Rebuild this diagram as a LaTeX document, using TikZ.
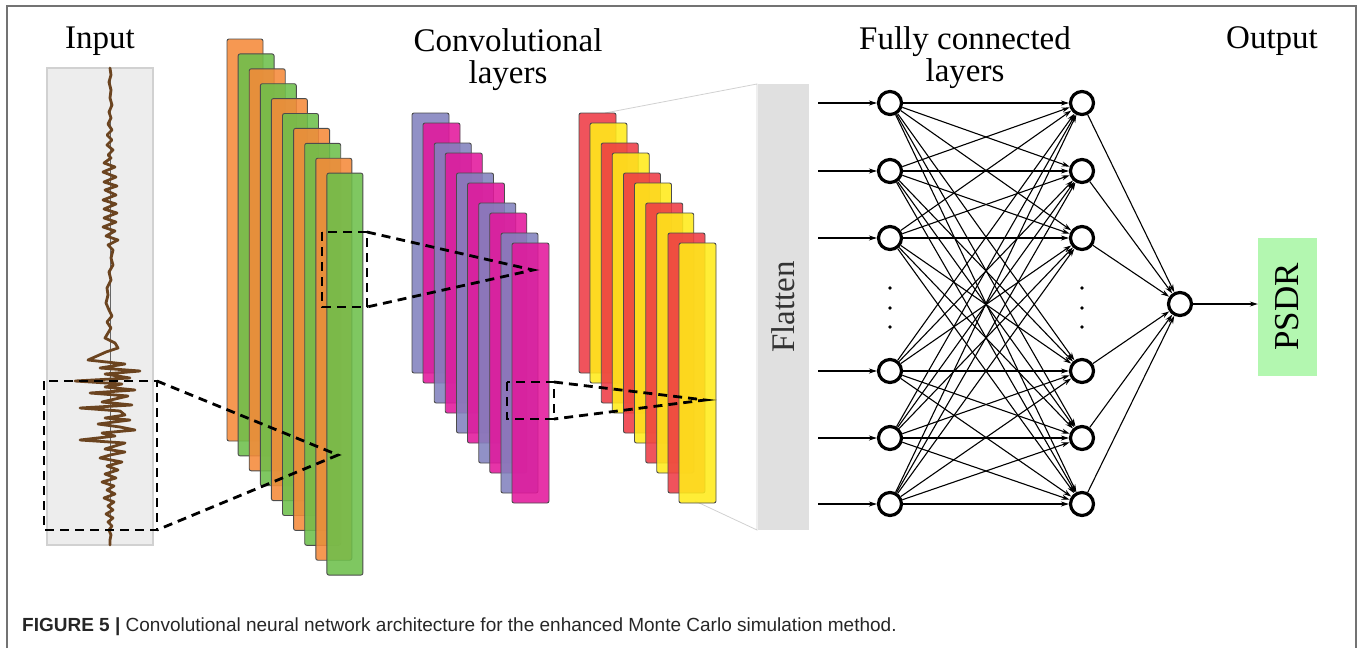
\documentclass[tikz,border=0pt]{standalone}
\usepackage{fontspec}
\setmainfont{Liberation Serif}
\newfontfamily\capfont{Liberation Sans}
\usetikzlibrary{arrows.meta}
\definecolor{lorange}{HTML}{F58A3A}
\definecolor{lgreen}{HTML}{6DBF4B}
\definecolor{lpurple}{HTML}{8282BE}
\definecolor{lmagenta}{HTML}{E2189C}
\definecolor{lred}{HTML}{EE3B45}
\definecolor{lyellow}{HTML}{FFEB1A}
\definecolor{sigcol}{HTML}{6B4420}
\definecolor{psdrcol}{HTML}{B3F7B0}
\begin{document}
\begin{tikzpicture}[x=1pt,y=-1pt,
  title/.style={font=\fontsize{33}{36}\selectfont, inner sep=0pt, anchor=base},
  fmap/.style={draw=black!70, line width=0.9pt, rounded corners=2pt, fill opacity=0.88},
  zoombox/.style={draw=black, line width=2.8pt, dash pattern=on 9pt off 6pt},
  neuron/.style={circle, draw=black, line width=3.2pt, fill=white, minimum size=23pt, inner sep=0pt},
  wire/.style={line width=1.1pt, -{Stealth[length=8pt,width=5pt]}},
  dotmark/.style={circle, fill=black, inner sep=0pt, minimum size=3.6pt}]
\useasboundingbox (0,0) rectangle (1360,648);
% frame
\draw[black!55, line width=1.6pt] (7,648) -- (7,6) -- (1356,6) -- (1356,648);
% titles
\node[title] (tin) at (100,48) {Input};
\node[title] (tconv1) at (508,51) {Convolutional};
\node[title] (tconv2) at (508,83) {layers};
\node[title] (tfc1) at (965,49) {Fully connected};
\node[title] (tfc2) at (965,81) {layers};
\node[title] (tout) at (1272,48) {Output};
% input panel
\node[draw=black!18, line width=1.2pt, fill=black!7, minimum width=106pt, minimum height=477pt, inner sep=0pt] (inbox) at (100,306.5) {};
\draw[black!60, line width=0.8pt] (110,68) -- (110,545);
\draw[sigcol, line width=2.8pt, line join=round, line cap=round]
 plot coordinates {
 (110,68)(111,75)(109,82)(111,90)(110,98)(112,105)(109,112)(111,118)(108,124)(112,130)(107,135)(112,140)(107,145)(113,150)(108,155)(111,158)
 (104,163)(115,167)(103,172)(116,177)(104,182)(117,186)(105,190)(116,195)(103,200)(116,204)(104,209)(117,213)(104,218)(116,222)(103,227)(115,231)(106,236)(118,240)(108,245)(113,250)
 (111,258)(113,265)(109,272)(111,280)(107,288)(108,295)(106,303)(109,310)(112,316)(107,322)(111,328)(108,333)(105,338)(115,343)(118,348)(106,352)
 (88,360)(125,364)(100,368)(140,371)(105,374)(130,378)(75,381)(122,384)(105,387)(135,390)(90,393)(128,396)(115,399)(102,402)(132,405)(80,408)(120,411)(125,415)(105,418)(130,420)(98,424)(120,427)(135,430)(102,433)(115,436)(80,440)(125,443)(115,446)(105,449)(125,452)(110,455)(100,458)(122,462)(107,466)(118,470)(105,474)(116,478)(102,482)(114,486)(107,490)(115,494)(104,498)(114,502)(108,506)(113,510)(106,514)(113,518)(108,522)(112,526)(109,530)(111,535)(110,540)(110,545)};
% conv layer 1
\foreach \i in {0,...,9}{
  \pgfmathsetmacro{\xx}{227+11.1*\i}
  \pgfmathsetmacro{\yy}{39+14.9*\i}
  \pgfmathtruncatemacro{\parity}{mod(\i,2)}
  \ifnum\parity=0 \def\fc{lorange}\else\def\fc{lgreen}\fi
  \draw[fmap, fill=\fc] (\xx,\yy) rectangle ++(36,402);
}
% conv layer 2
\foreach \k in {0,...,4}{
  \pgfmathsetmacro{\xa}{412+22.25*\k}
  \pgfmathsetmacro{\ya}{113+30*\k}
  \draw[fmap, fill=lpurple] (\xa,\ya) rectangle ++(37,260);
  \draw[fmap, fill=lmagenta] (\xa+11,\ya+10) rectangle ++(37,260);
}
% flatten trapezoid
\draw[black!18, line width=0.8pt] (605,113) -- (757,84) -- (757,530) -- (695,501);
% conv layer 3
\foreach \k in {0,...,4}{
  \pgfmathsetmacro{\xa}{579+22.25*\k}
  \pgfmathsetmacro{\ya}{113+30*\k}
  \draw[fmap, fill=lred] (\xa,\ya) rectangle ++(37,260);
  \draw[fmap, fill=lyellow] (\xa+11,\ya+10) rectangle ++(37,260);
}
% zoom boxes
\coordinate (z1) at (338,455);
\coordinate (z2) at (533,270);
\coordinate (z3) at (705,400);
\draw[zoombox] (44,381) rectangle (157,530);
\draw[zoombox] (157,381) -- (z1) -- (157,530);
\draw[zoombox] (322,232) rectangle (367,307);
\draw[zoombox] (367,232) -- (z2) -- (367,307);
\draw[zoombox] (507,382) rectangle (554,419);
\draw[zoombox] (554,382) -- (z3) -- (554,419);
% flatten
\node[fill=black!12, minimum width=51pt, minimum height=446pt, inner sep=0pt] (flat) at (783,307) {};
\node[rotate=90, font=\fontsize{33}{36}\selectfont, text=black!80] (flattxt) at (783,307) {Flatten};
% fully connected
\foreach \n/\yy in {1/103,2/171,3/238,4/371,5/438,6/504}{
  \node[neuron] (a\n) at (890,\yy) {};
  \node[neuron] (b\n) at (1082,\yy) {};
  \coordinate (in\n) at (818,\yy);
}
\node[neuron] (o) at (1180,304) {};
\foreach \n in {1,...,6}{
  \draw[wire] (in\n) -- (a\n);
  \foreach \m in {1,...,6}{
    \draw[wire] (a\n) -- (b\m);
  }
  \draw[wire] (b\n) -- (o);
}
\foreach \yy/\nm in {288/1,308/2,327/3}{
  \node[dotmark] (da\nm) at (890,\yy) {};
  \node[dotmark] (db\nm) at (1082,\yy) {};
}
% output
\node[fill=psdrcol, minimum width=59pt, minimum height=138pt, inner sep=0pt] (psdr) at (1287.5,307) {};
\node[rotate=90, font=\fontsize{35}{38}\selectfont] (psdrtxt) at (1287.5,307) {PSDR};
\draw[wire] (o) -- (psdr.west |- o);
% caption
\node[anchor=base west, inner sep=0pt, font=\capfont\fontsize{19}{22}\selectfont, text=black!85] (cap) at (22,631) {\textbf{FIGURE 5 |} Convolutional neural network architecture for the enhanced Monte Carlo simulation method.};
\end{tikzpicture}
\end{document}
